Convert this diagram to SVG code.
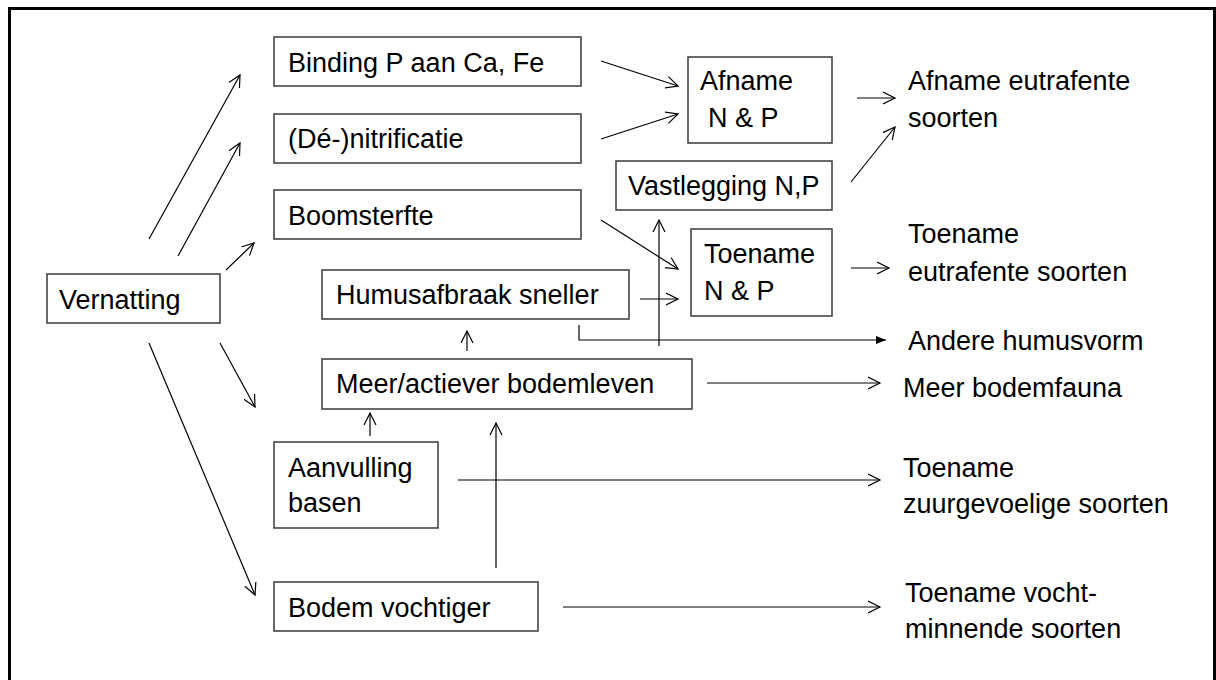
<svg xmlns="http://www.w3.org/2000/svg" width="1216" height="680" viewBox="0 0 1216 680">
<style>
.box{fill:#fff;stroke:#3a3a3a;stroke-width:1.5}
.t{font-family:"Liberation Sans",Arial,sans-serif;font-size:27px;fill:#000}
.c{fill:none;stroke:#000;stroke-width:1.2}
.a{marker-end:url(#open)}
</style>
<defs>
<marker id="open" markerUnits="userSpaceOnUse" markerWidth="14" markerHeight="14" refX="12" refY="6" orient="auto" viewBox="0 0 14 12">
<path d="M0,0 L12,6 L0,12" fill="none" stroke="#000" stroke-width="1.2"/>
</marker>
<marker id="filled" markerUnits="userSpaceOnUse" markerWidth="12" markerHeight="10" refX="10" refY="4" orient="auto" viewBox="0 0 12 8">
<path d="M0,0 L10,4 L0,8 Z" fill="#000"/>
</marker>
</defs>
<rect x="0" y="0" width="1216" height="680" fill="#fff"/>
<rect x="9.5" y="8.5" width="1205" height="690" fill="none" stroke="#000" stroke-width="3"/>

<g id="connectors">
<line class="c a" x1="149" y1="239" x2="240" y2="75"/>
<line class="c a" x1="178" y1="256" x2="240" y2="143"/>
<line class="c a" x1="226" y1="270" x2="254" y2="243"/>
<line class="c a" x1="220" y1="343" x2="255" y2="407"/>
<line class="c a" x1="149" y1="343" x2="255" y2="595"/>
<line class="c a" x1="601" y1="61" x2="678" y2="86"/>
<line class="c a" x1="601" y1="139" x2="678" y2="114"/>
<line class="c a" x1="601" y1="220" x2="678" y2="269"/>
<line class="c a" x1="640" y1="299" x2="678" y2="299"/>
<polyline class="c" points="579,325 579,340 886,340" marker-end="url(#filled)"/>
<line class="c a" x1="659" y1="346" x2="659" y2="220"/>
<line class="c a" x1="707" y1="383" x2="880" y2="383"/>
<line class="c a" x1="458" y1="480" x2="880" y2="480"/>
<line class="c a" x1="563" y1="607" x2="880" y2="607"/>
<line class="c a" x1="496" y1="568" x2="496" y2="423"/>
<line class="c a" x1="370" y1="436" x2="370" y2="413"/>
<line class="c a" x1="467" y1="351" x2="467" y2="331"/>
<line class="c a" x1="857" y1="98" x2="895" y2="98"/>
<line class="c a" x1="851" y1="182" x2="895" y2="127"/>
<line class="c a" x1="851" y1="268" x2="889" y2="268"/>
</g>

<g id="vernatting"><rect class="box" x="47" y="274" width="173" height="49"/><text class="t" x="59" y="309">Vernatting</text></g>
<g id="binding"><rect class="box" x="274" y="37" width="307" height="49"/><text class="t" x="288" y="72">Binding P aan Ca, Fe</text></g>
<g id="nitrificatie"><rect class="box" x="274" y="114" width="307" height="49"/><text class="t" x="288" y="148">(Dé-)nitrificatie</text></g>
<g id="boomsterfte"><rect class="box" x="274" y="190" width="307" height="49"/><text class="t" x="288" y="225">Boomsterfte</text></g>
<g id="humusafbraak"><rect class="box" x="322" y="270" width="307" height="49"/><text class="t" x="336" y="304">Humusafbraak sneller</text></g>
<g id="afname-np"><rect class="box" x="688" y="57" width="144" height="86"/><text class="t" x="700" y="90">Afname</text><text class="t" x="708" y="127">N &amp; P</text></g>
<g id="vastlegging"><rect class="box" x="616" y="161" width="216" height="49"/><text class="t" x="628" y="195">Vastlegging N,P</text></g>
<g id="toename-np"><rect class="box" x="691" y="229" width="141" height="87"/><text class="t" x="704" y="263">Toename</text><text class="t" x="704" y="300">N &amp; P</text></g>
<g id="bodemleven"><rect class="box" x="322" y="359" width="370" height="50"/><text class="t" x="336" y="393">Meer/actiever bodemleven</text></g>
<g id="aanvulling"><rect class="box" x="274" y="442" width="164" height="86"/><text class="t" x="288" y="477">Aanvulling</text><text class="t" x="288" y="512">basen</text></g>
<g id="vochtiger"><rect class="box" x="274" y="582" width="264" height="49"/><text class="t" x="288" y="617">Bodem vochtiger</text></g>

<g id="afname-eutrafente"><text class="t" x="908" y="90">Afname eutrafente</text><text class="t" x="908" y="127">soorten</text></g>
<g id="toename-eutrafente"><text class="t" x="908" y="243">Toename</text><text class="t" x="908" y="281">eutrafente soorten</text></g>
<g id="andere-humusvorm"><text class="t" x="908" y="350">Andere humusvorm</text></g>
<g id="meer-bodemfauna"><text class="t" x="903" y="397">Meer bodemfauna</text></g>
<g id="toename-zuur"><text class="t" x="903" y="477">Toename</text><text class="t" x="903" y="513">zuurgevoelige soorten</text></g>
<g id="toename-vocht"><text class="t" x="905" y="602">Toename vocht-</text><text class="t" x="905" y="638">minnende soorten</text></g>
</svg>
